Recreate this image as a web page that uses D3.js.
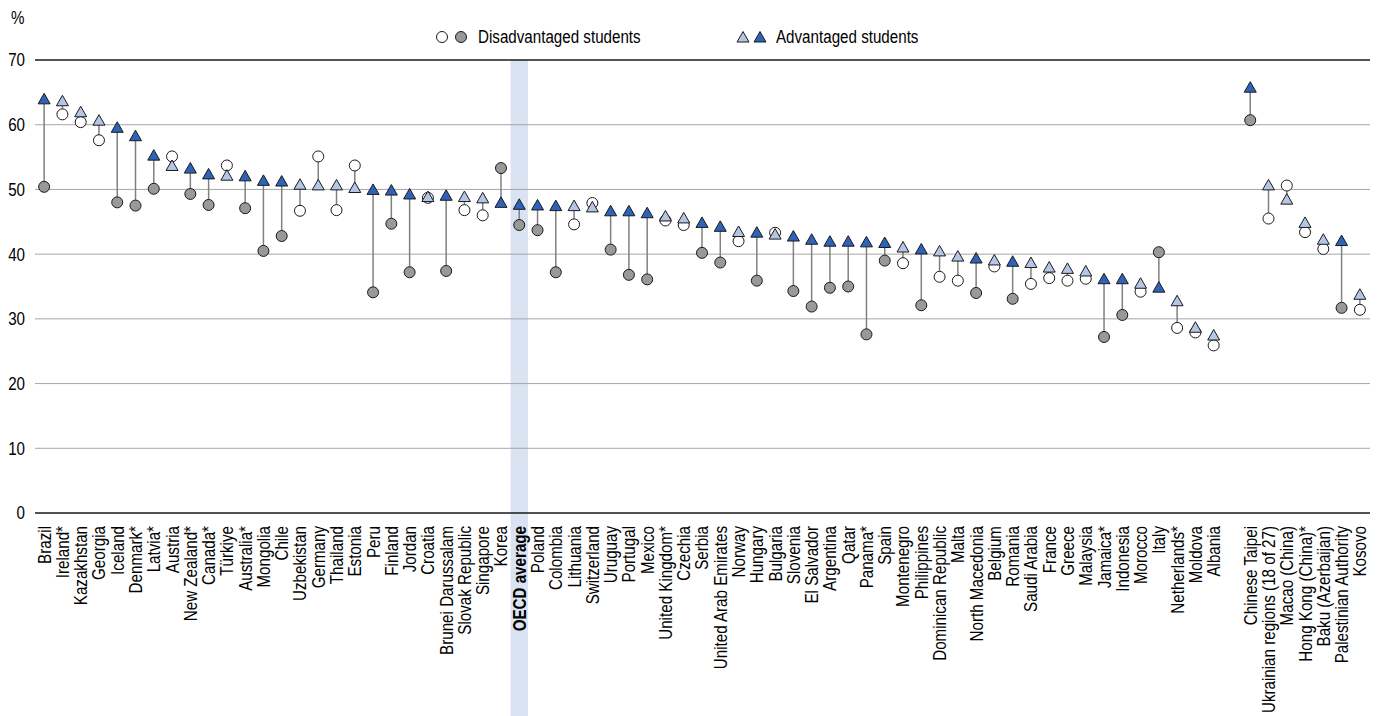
<!DOCTYPE html>
<html>
<head>
<meta charset="utf-8">
<script src="https://cdn.jsdelivr.net/npm/d3@7"></script>
<style>
  html, body { margin: 0; padding: 0; background: #fff; }
  svg { display: block; font-family: "Liberation Sans", Arial, sans-serif; }
</style>
</head>
<body>
<svg id="chart" width="1377" height="716"></svg>
<script>
const categories = ["Brazil","Ireland*","Kazakhstan","Georgia","Iceland","Denmark*","Latvia*","Austria","New Zealand*","Canada*","Türkiye","Australia*","Mongolia","Chile","Uzbekistan","Germany","Thailand","Estonia","Peru","Finland","Jordan","Croatia","Brunei Darussalam","Slovak Republic","Singapore","Korea","OECD average","Poland","Colombia","Lithuania","Switzerland","Uruguay","Portugal","Mexico","United Kingdom*","Czechia","Serbia","United Arab Emirates","Norway","Hungary","Bulgaria","Slovenia","El Salvador","Argentina","Qatar","Panama*","Spain","Montenegro","Philippines","Dominican Republic","Malta","North Macedonia","Belgium","Romania","Saudi Arabia","France","Greece","Malaysia","Jamaica*","Indonesia","Morocco","Italy","Netherlands*","Moldova","Albania","","Chinese Taipei","Ukrainian regions (18 of 27)","Macao (China)","Hong Kong (China)*","Baku (Azerbaijan)","Palestinian Authority","Kosovo"];

const disadvantaged = [50.4,61.6,60.4,57.6,48.0,47.5,50.1,55.1,49.3,47.6,53.7,47.1,40.5,42.8,46.7,55.1,46.8,53.7,34.1,44.7,37.2,48.7,37.4,46.8,46.0,53.3,44.5,43.7,37.2,44.6,47.9,40.7,36.8,36.1,45.2,44.5,40.2,38.7,42.0,35.9,43.3,34.3,31.9,34.8,35.0,27.6,39.0,38.6,32.1,36.5,35.9,34.0,38.1,33.1,35.4,36.3,35.9,36.2,27.2,30.6,34.2,40.3,28.6,27.9,25.9,null,60.7,45.5,50.6,43.4,40.8,31.7,31.4];

const advantaged = [64.0,63.7,62.0,60.7,59.6,58.3,55.3,53.7,53.3,52.4,52.2,52.1,51.4,51.3,50.8,50.7,50.7,50.3,50.0,49.9,49.3,48.9,49.1,48.9,48.7,48.0,47.7,47.6,47.5,47.5,47.3,46.7,46.7,46.4,45.9,45.6,44.9,44.3,43.5,43.4,43.1,42.8,42.3,42.0,42.0,41.9,41.8,41.1,40.8,40.5,39.7,39.4,39.1,38.9,38.7,38.0,37.8,37.4,36.2,36.2,35.5,34.9,32.8,28.7,27.5,null,65.8,50.7,48.5,44.9,42.3,42.1,33.8];

const significant = [1,0,0,0,1,1,1,0,1,1,0,1,1,1,0,0,0,0,1,1,1,0,1,0,0,1,1,1,1,0,0,1,1,1,0,0,1,1,0,1,0,1,1,1,1,1,1,0,1,0,0,1,0,1,0,0,0,0,1,1,0,1,0,0,0,0,1,0,0,0,0,1,0];

const yTicks = [0,10,20,30,40,50,60,70];
const legendLabels = ["Disadvantaged students","Advantaged students"];
const highlight = "OECD average";

const FONT = "'Liberation Sans', Arial, sans-serif";
const FS = 18.5;   // font size
const SX = 0.82;   // horizontal condensing (narrow face)

const data = categories.map((c, i) => ({
  key: c === "" ? "__gap__" : c,
  label: c,
  dis: disadvantaged[i],
  adv: advantaged[i],
  sig: significant[i] === 1
}));

const svg = d3.select("#chart");
const x = d3.scaleBand().domain(data.map(d => d.key)).range([35, 1369]).padding(0);
const y = d3.scaleLinear().domain([0, 70]).range([513, 60]);
const cx = k => x(k) + x.bandwidth() / 2;

const col = {
  darkTri: "#2F63B8", lightTri: "#B4C6E7",
  grayCirc: "#999999", whiteCirc: "#ffffff",
  stem: "#808080", grid: "#a6a6a6", band: "#DAE3F1"
};

// OECD band
const bw = x.bandwidth() * 0.95;
svg.append("rect")
  .attr("x", cx(highlight) - bw / 2).attr("y", y(70))
  .attr("width", bw).attr("height", 716 - y(70))
  .attr("fill", col.band);

// grid
svg.append("g").selectAll("line").data(yTicks).join("line")
  .attr("x1", 35).attr("x2", 1370)
  .attr("y1", d => y(d)).attr("y2", d => y(d))
  .attr("stroke", d => (d === 0 || d === 70) ? "#1a1a1a" : col.grid)
  .attr("stroke-width", d => (d === 0 || d === 70) ? 1.5 : 1);

// y axis labels
const yAxis = d3.axisLeft(y).tickValues(yTicks).tickSize(0).tickPadding(0);
const yg = svg.append("g").attr("transform", "translate(25,0)").call(yAxis);
yg.select(".domain").remove();
yg.selectAll("text").attr("font-size", FS).attr("fill", "#000")
  .attr("font-family", FONT).attr("x", 0)
  .attr("transform", `scale(${SX},1)`);

svg.append("text").attr("transform", `translate(11,24) scale(${SX},1)`)
  .attr("font-size", FS).attr("font-family", FONT).text("%");

// x labels
const xAxis = d3.axisBottom(x).tickSize(0).tickPadding(0).tickFormat(k => k === "__gap__" ? "" : k);
const xg = svg.append("g").attr("transform", `translate(0,${y(0)})`).call(xAxis);
xg.select(".domain").remove();
xg.selectAll("text")
  .attr("font-size", FS).attr("fill", "#000")
  .attr("font-family", FONT)
  .attr("font-weight", k => k === highlight ? "bold" : "normal")
  .attr("text-anchor", "end")
  .attr("transform", `rotate(-90) scale(${SX},1)`)
  .attr("x", -13 / SX).attr("y", 0).attr("dy", "0.35em");

const pts = data.filter(d => d.dis != null);

// stems
svg.append("g").selectAll("line").data(pts).join("line")
  .attr("x1", d => cx(d.key)).attr("x2", d => cx(d.key))
  .attr("y1", d => y(d.dis)).attr("y2", d => y(d.adv))
  .attr("stroke", col.stem).attr("stroke-width", 1.5);

// circles
svg.append("g").selectAll("circle").data(pts).join("circle")
  .attr("cx", d => cx(d.key)).attr("cy", d => y(d.dis)).attr("r", 5.5)
  .attr("fill", d => d.sig ? col.grayCirc : col.whiteCirc)
  .attr("stroke", "#1a1a1a").attr("stroke-width", 1);

// triangles
const tri = "M0,-5.5L6,5L-6,5Z";
svg.append("g").selectAll("path").data(pts).join("path")
  .attr("d", tri)
  .attr("transform", d => `translate(${cx(d.key)},${y(d.adv)})`)
  .attr("fill", d => d.sig ? col.darkTri : col.lightTri)
  .attr("stroke", "#1a1a1a").attr("stroke-width", 1);

// legend
const lg = svg.append("g");
lg.append("circle").attr("cx", 442).attr("cy", 37).attr("r", 5.5).attr("fill", col.whiteCirc).attr("stroke", "#1a1a1a");
lg.append("circle").attr("cx", 461).attr("cy", 37).attr("r", 5.5).attr("fill", col.grayCirc).attr("stroke", "#1a1a1a");
lg.append("text").attr("transform", `translate(478,43) scale(${SX},1)`).attr("font-size", FS).attr("font-family", FONT).text(legendLabels[0]);
lg.append("path").attr("d", tri).attr("transform", "translate(743,37)").attr("fill", col.lightTri).attr("stroke", "#1a1a1a");
lg.append("path").attr("d", tri).attr("transform", "translate(760,37)").attr("fill", col.darkTri).attr("stroke", "#1a1a1a");
lg.append("text").attr("transform", `translate(776,43) scale(${SX},1)`).attr("font-size", FS).attr("font-family", FONT).text(legendLabels[1]);
</script>
</body>
</html>
